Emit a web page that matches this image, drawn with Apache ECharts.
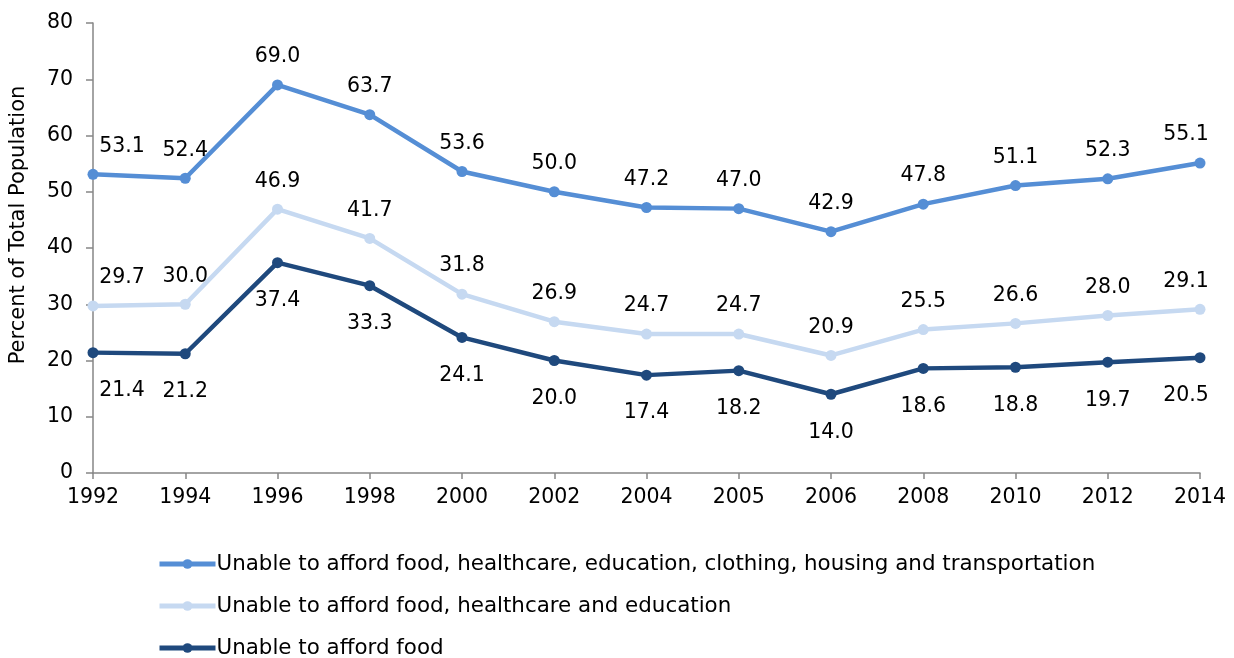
<!DOCTYPE html>
<html><head><meta charset="utf-8">
<script src="https://cdn.jsdelivr.net/npm/echarts@6/dist/echarts.min.js"></script>
<style>html,body{margin:0;padding:0;background:#fff}#c{width:1234px;height:658px}</style>
</head><body><div id="c"></div>
<script>
const years = ['1992','1994','1996','1998','2000','2002','2004','2005','2006','2008','2010','2012','2014'];
const allNeeds = [53.1,52.4,69.0,63.7,53.6,50.0,47.2,47.0,42.9,47.8,51.1,52.3,55.1];
const foodHealthEdu = [29.7,30.0,46.9,41.7,31.8,26.9,24.7,24.7,20.9,25.5,26.6,28.0,29.1];
const foodOnly = [21.4,21.2,37.4,33.3,24.1,20.0,17.4,18.2,14.0,18.6,18.8,19.7,20.5];
const yTicks = [0,10,20,30,40,50,60,70,80];
const seriesNames = ['Unable to afford food, healthcare, education, clothing, housing and transportation','Unable to afford food, healthcare and education','Unable to afford food'];

const FONT = 'DejaVu Sans';
function withEdges(arr){
  return arr.map((v,i)=>{
    if(i===0) return {value:v,label:{offset:[29,0]}};
    if(i===arr.length-1) return {value:v,label:{offset:[-14,0]}};
    return v;
  });
}
function mk(name,data,color,pos){
  return {name,type:'line',data:withEdges(data),symbol:'circle',symbolSize:11,
    lineStyle:{width:4.5,color},itemStyle:{color},
    label:{show:true,position:pos,distance:pos==='top'?12:22,formatter:p=>p.value.toFixed(1),
      fontFamily:FONT,fontSize:20.5,color:'#000'}};
}
const chart = echarts.init(document.getElementById('c'));
chart.setOption({
  animation:false,
  grid:{left:88,right:34,top:23,bottom:185,containLabel:false},
  legend:{orient:'vertical',left:152,top:547,height:112,itemGap:18,itemWidth:56,itemHeight:12,
    lineStyle:{width:5},
    textStyle:{fontFamily:FONT,fontSize:21.4,color:'#000',lineHeight:24,padding:[0,0,0,-4]},
    data:seriesNames},
  xAxis:{type:'category',data:years,boundaryGap:false,
    axisLine:{lineStyle:{color:'#868686',width:1.5}},
    axisTick:{show:true,alignWithLabel:true,length:6,lineStyle:{color:'#868686',width:1.5}},
    axisLabel:{fontFamily:FONT,fontSize:20.5,color:'#000',margin:14}},
  yAxis:{type:'value',min:0,max:80,interval:10,
    name:'Percent of Total Population',nameLocation:'middle',nameGap:64,
    nameTextStyle:{fontFamily:FONT,fontSize:21,color:'#000',padding:[0,0,0,46]},
    axisLine:{show:true,lineStyle:{color:'#868686',width:1.5}},
    axisTick:{show:true,length:7,lineStyle:{color:'#868686',width:1.5}},
    splitLine:{show:false},
    axisLabel:{fontFamily:FONT,fontSize:20.5,color:'#000',margin:20,
      formatter:v=>yTicks.includes(v)?String(v):''}},
  series:[
    mk(seriesNames[0],allNeeds,'#558ED5','top'),
    mk(seriesNames[1],foodHealthEdu,'#C6D9F1','top'),
    mk(seriesNames[2],foodOnly,'#1F497D','bottom')
  ]
});
</script></body></html>
